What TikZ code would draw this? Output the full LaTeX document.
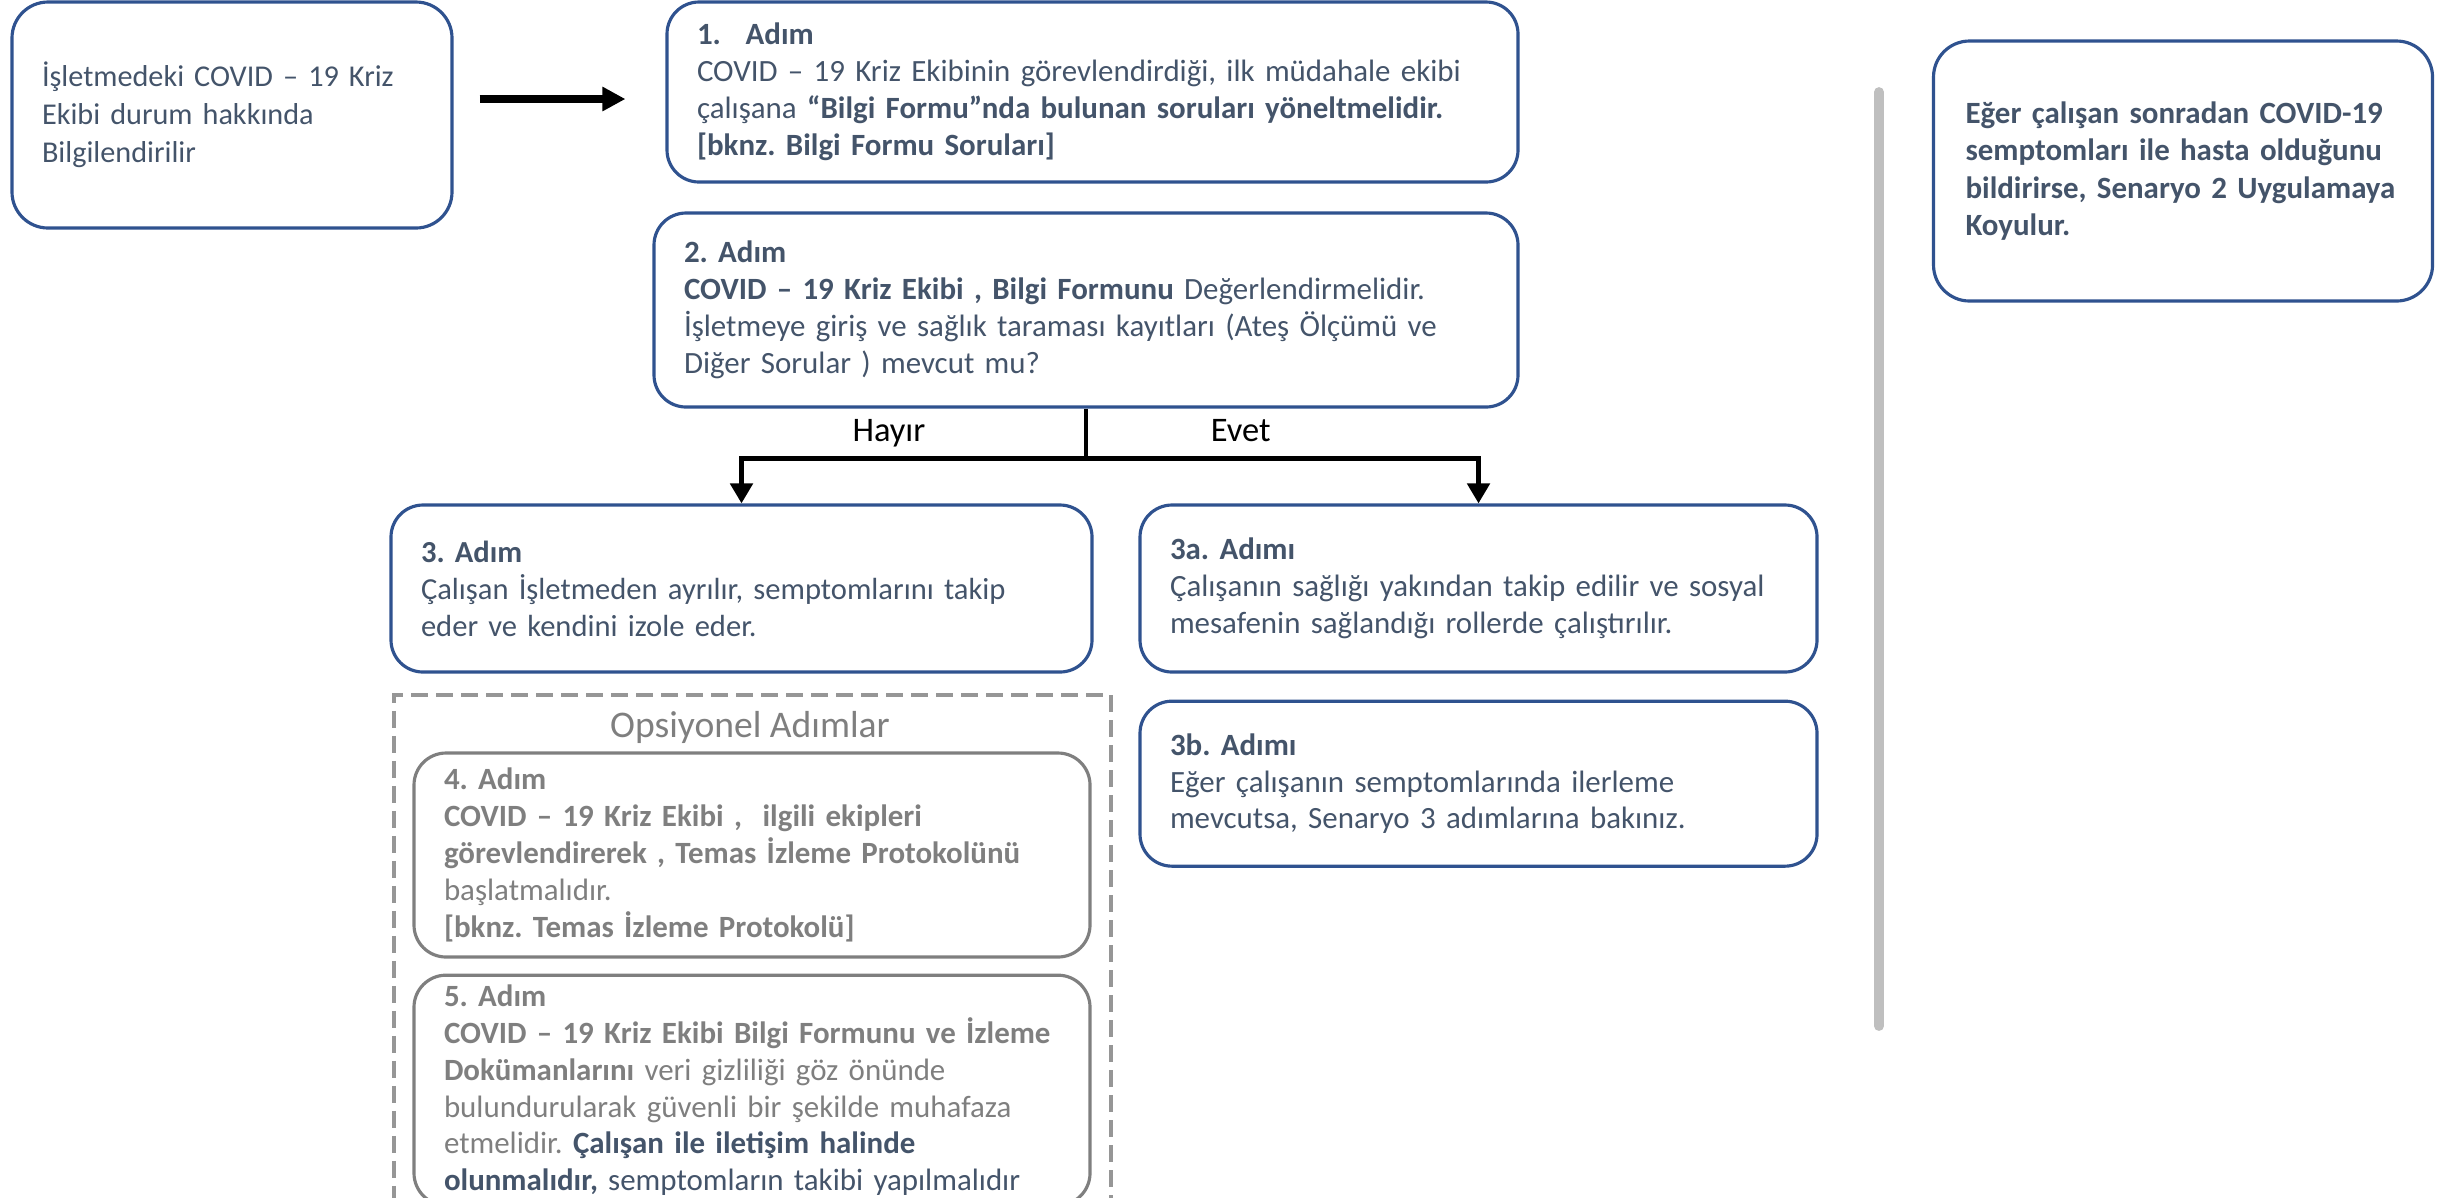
\documentclass[tikz,border=0pt]{standalone}
\usepackage{fontspec}
\setmainfont{Carlito}
\usepackage{tikz}
\usetikzlibrary{arrows.meta}
\usetikzlibrary{positioning}

\definecolor{boxblue}{RGB}{47,82,143}
\definecolor{slate}{RGB}{68,84,106}
\definecolor{optgray}{RGB}{127,127,127}
\definecolor{framegray}{RGB}{150,150,150}
\definecolor{bargray}{RGB}{191,191,191}

\begin{document}
\frenchspacing
\begin{tikzpicture}[font=\fontsize{8.8}{10.5}\selectfont,
>={Triangle[length=0.2cm,width=0.22cm]}]
\tikzstyle{stepbox}=[rectangle,draw=boxblue,line width=0.9pt,text=slate,
rounded corners=0.32cm,align=left,inner xsep=0.3cm,inner ysep=0pt]
\tikzstyle{optbox}=[stepbox,draw=optgray,text=optgray]
\tikzstyle{flow}=[draw=black,line width=1.4pt]
\tikzstyle{answer}=[text=black,inner sep=1pt,font=\fontsize{9.8}{12}\selectfont]
\useasboundingbox (0,0) rectangle (24.43,-11.97);
\clip (0,0) rectangle (24.43,-11.97);
% start
\node[stepbox,rounded corners=0.36cm,text width=3.8cm,minimum height=2.26cm,
font=\fontsize{8.6}{10.8}\selectfont] (info) at (2.32,-1.15)
{İşletmedeki COVID – 19 Kriz\\Ekibi durum hakkında\\Bilgilendirilir};
\node[stepbox,text width=7.91cm,minimum height=1.8cm] (step1) at (10.925,-0.92)
{\textbf{1.\hspace{0.8em}Adım}\\
COVID – 19 Kriz Ekibinin görevlendirdiği, ilk müdahale ekibi\\
çalışana \textbf{“Bilgi Formu”nda bulunan soruları yöneltmelidir.}\\
\textbf{[bknz. Bilgi Formu Soruları]}};
\node[stepbox,text width=8.04cm,minimum height=1.94cm] (step2) at (10.86,-3.1)
{\textbf{2. Adım}\\
\textbf{COVID – 19 Kriz Ekibi , Bilgi Formunu} Değerlendirmelidir.\\
İşletmeye giriş ve sağlık taraması kayıtları (Ateş Ölçümü ve\\
Diğer Sorular ) mevcut mu?};
% answers
\node[stepbox,text width=6.41cm,minimum height=1.67cm,
font=\fontsize{8.7}{10.5}\selectfont] (step3) at (7.415,-5.885)
{\textbf{3. Adım}\\
Çalışan İşletmeden ayrılır, semptomlarını takip\\
eder ve kendini izole eder.};
\node[stepbox,text width=6.17cm,minimum height=1.67cm] (step3a) at (14.785,-5.885)
{\textbf{3a. Adımı}\\
Çalışanın sağlığı yakından takip edilir ve sosyal\\
mesafenin sağlandığı rollerde çalıştırılır.};
\node[stepbox,text width=6.17cm,minimum height=1.65cm] (step3b) [below=0.26cm of step3a]
{\textbf{3b. Adımı}\\
Eğer çalışanın semptomlarında ilerleme\\
mevcutsa, Senaryo 3 adımlarına bakınız.};
% optional steps
\node[draw=framegray,line width=1.1pt,dash pattern=on 0.17cm off 0.08cm,
minimum width=7.17cm,minimum height=5.5cm,anchor=north west] (optional) at (3.92,-6.93) {};
\node[text=optgray,font=\fontsize{10.7}{12}\selectfont] (opttitle) at (7.5,-7.27) {Opsiyonel Adımlar};
\node[optbox,text width=6.16cm,minimum height=2.04cm] (step4) at (7.52,-8.55)
{\textbf{4. Adım}\\
\textbf{COVID – 19 Kriz Ekibi ,\ \ ilgili ekipleri}\\
\textbf{görevlendirerek , Temas İzleme Protokolünü}\\
başlatmalıdır.\\
\textbf{[bknz. Temas İzleme Protokolü]}};
\node[optbox,text width=6.16cm,minimum height=2.3cm] (step5) [below=0.15cm of step4]
{\textbf{5. Adım}\\
\textbf{COVID – 19 Kriz Ekibi Bilgi Formunu ve İzleme}\\
\textbf{Dokümanlarını} veri gizliliği göz önünde\\
bulundurularak güvenli bir şekilde muhafaza\\
etmelidir. \textcolor{slate}{\textbf{Çalışan ile iletişim halinde}}\\
\textcolor{slate}{\textbf{olunmalıdır,} semptomların takibi yapılmalıdır}};
% scenario 2
\draw[bargray,line width=2.8pt,line cap=round] (18.79,-0.92) -- (18.79,-10.26);
\node[stepbox,rounded corners=0.36cm,text width=4.35cm,minimum height=2.6cm,
inner xsep=0.32cm,font=\fontsize{8.8}{10.7}\selectfont\bfseries] (scenario2) at (21.83,-1.71)
{Eğer çalışan sonradan COVID-19\\
semptomları ile hasta olduğunu\\
bildirirse, Senaryo 2 Uygulamaya\\
Koyulur.};
% connectors
\draw[flow,->,line width=2.3pt,>={Triangle[length=0.23cm,width=0.23cm]},
shorten <=0.26cm,shorten >=0.4cm]
([yshift=-0.07cm]step1.west -| info.east) -- ([yshift=-0.07cm]step1.west);
\coordinate (split) at ([yshift=-0.5cm]step2.south);
\draw[flow] (step2.south) -- (split);
\draw[flow,->] (split) -| node[answer,pos=0.286,above=1.5pt] (no) {Hayır} (step3.north);
\draw[flow,->] (split) -| node[answer,pos=0.197,above=3pt] (yes) {Evet} (step3a.north);
\end{tikzpicture}
\end{document}
